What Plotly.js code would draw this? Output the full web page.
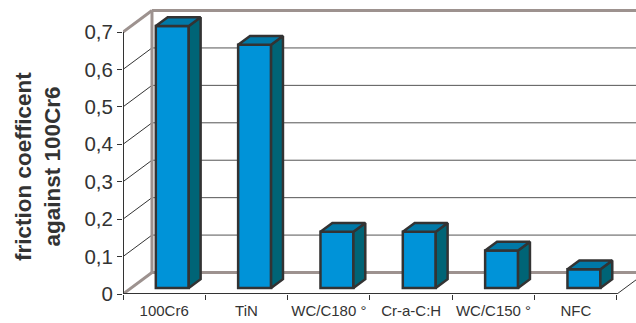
<!DOCTYPE html>
<html>
<head>
<meta charset="utf-8">
<script src="https://cdn.plot.ly/plotly-3.0.1.min.js"></script>
<style>html,body{margin:0;padding:0;background:#fff;}</style>
</head>
<body>
<div id="chart" style="width:636px;height:323px;"></div>
<script>
// Friction coefficient of each coating against 100Cr6
const categories = ['100Cr6', 'TiN', 'WC/C180 °', 'Cr-a-C:H', 'WC/C150 °', 'NFC'];
const friction = [0.7, 0.65, 0.15, 0.15, 0.1, 0.05];
const yTickVals = [0, 0.1, 0.2, 0.3, 0.4, 0.5, 0.6, 0.7];
const yTickText = ['0', '0,1', '0,2', '0,3', '0,4', '0,5', '0,6', '0,7'];

// Oblique projection used for the pseudo-3D box (data units)
const DEPTH_X = 0.352;    // floor depth projected on x (category units)
const DEPTH_Y = 0.0574;   // floor depth projected on y (value units)
const BAR_FRONT = 0.28;   // depth position of the bar front faces
const BAR_DEPTH = 0.41;   // depth taken by each bar
const BAR_W = 0.40;
const X_MIN = -0.5, X_MAX = 5.731;
const Y_MIN = 0, Y_MAX = 0.7855;

const WALL = '#9d928f';
const EDGE = '#333333';
const FRONT = '#0093d8';
const TOP = '#0079a8';
const SIDE = '#006476';

const n = categories.length;
const idx = categories.map((_, i) => i);
const yTop = yTickVals[yTickVals.length - 1];
const wallX = X_MIN + DEPTH_X;

// ---- box: back wall, left obliques, floor ----
const shapes = [];
function seg(x0, y0, x1, y1, color, width) {
  shapes.push({type: 'line', xref: 'x', yref: 'y', x0: x0, y0: y0, x1: x1, y1: y1,
               layer: 'below', line: {color: color, width: width}});
}
yTickVals.forEach(v => {
  const border = (v === 0 || v === yTop);
  seg(wallX, v + DEPTH_Y, X_MAX + 1, v + DEPTH_Y, border ? WALL : '#555', border ? 3 : 1);
  seg(X_MIN, v, wallX, v + DEPTH_Y, border ? WALL : EDGE, border ? 3 : 1);
});
seg(wallX, DEPTH_Y, wallX, yTop + DEPTH_Y, WALL, 3);
seg(X_MIN, 0, X_MIN, yTop, EDGE, 2);
seg(X_MIN, 0, n - 0.5, 0, EDGE, 2);
seg(n - 0.5, 0, n - 0.5 + DEPTH_X, DEPTH_Y, EDGE, 1);

// ---- bars: front faces as a bar trace, top/side faces as polygons ----
const lift = BAR_FRONT * DEPTH_Y;
const shiftX = BAR_FRONT * DEPTH_X;
const dX = BAR_DEPTH * DEPTH_X, dY = BAR_DEPTH * DEPTH_Y;

const topX = [], topY = [], sideX = [], sideY = [];
friction.forEach((v, i) => {
  const xl = i + shiftX - BAR_W / 2, xr = i + shiftX + BAR_W / 2;
  const yt = lift + v, yb = lift;
  topX.push(xl, xr, xr + dX, xl + dX, xl, null);
  topY.push(yt, yt, yt + dY, yt + dY, yt, null);
  sideX.push(xr, xr + dX, xr + dX, xr, xr, null);
  sideY.push(yb, yb + dY, yt + dY, yt, yb, null);
});

const traces = [
  {type: 'bar', x: idx.map(i => i + shiftX), y: friction, base: friction.map(() => lift),
   width: BAR_W, marker: {color: FRONT, line: {color: EDGE, width: 2.5}}, hoverinfo: 'skip'},
  {type: 'scatter', mode: 'lines', x: sideX, y: sideY, fill: 'toself', fillcolor: SIDE,
   line: {color: EDGE, width: 2.5}, hoverinfo: 'skip'},
  {type: 'scatter', mode: 'lines', x: topX, y: topY, fill: 'toself', fillcolor: TOP,
   line: {color: EDGE, width: 2.5}, hoverinfo: 'skip'}
];

const layout = {
  width: 636, height: 323,
  margin: {l: 123, r: 0, t: 0, b: 29, pad: 0},
  paper_bgcolor: '#fff', plot_bgcolor: '#fff',
  showlegend: false,
  separators: ',.',
  font: {family: '"Liberation Sans", Arial, sans-serif', color: '#333'},
  shapes: shapes,
  xaxis: {
    range: [X_MIN, X_MAX], showgrid: false, zeroline: false, showline: false,
    tickmode: 'array', tickvals: idx, ticktext: categories, ticks: '',
    ticklabelstandoff: 6,
    tickfont: {size: 15, color: '#333'},
    minor: {tickmode: 'array', tickvals: idx.map(i => i - 0.5).concat([n - 0.5]),
            ticks: 'outside', ticklen: 5, tickcolor: EDGE, tickwidth: 1, showgrid: false}
  },
  yaxis: {
    range: [Y_MIN, Y_MAX], showgrid: false, zeroline: false, showline: false,
    tickmode: 'array', tickvals: yTickVals, ticktext: yTickText,
    ticks: 'outside', ticklen: 5, tickcolor: EDGE, tickwidth: 1,
    tickfont: {size: 20.5, color: '#333'}
  },
  annotations: [{
    xref: 'paper', yref: 'paper', x: -0.166, y: 0.435,
    xanchor: 'center', yanchor: 'middle', textangle: -90, showarrow: false,
    text: '<b>friction coefficent<br>against 100Cr6</b>',
    font: {size: 22.5, color: '#333'}
  }]
};

Plotly.newPlot('chart', traces, layout, {staticPlot: true, displayModeBar: false});
</script>
</body>
</html>
